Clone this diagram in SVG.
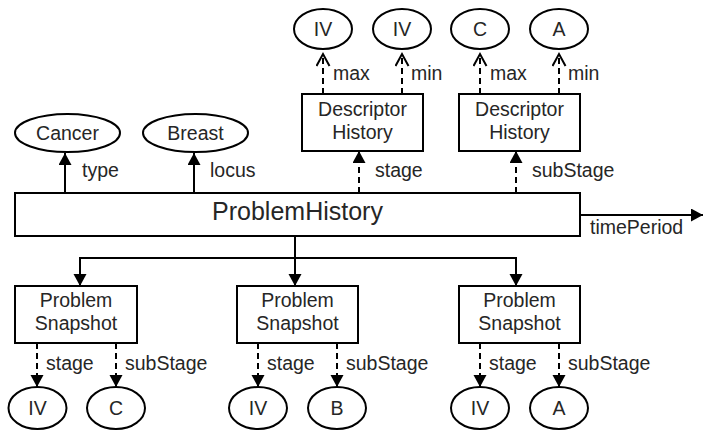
<svg xmlns="http://www.w3.org/2000/svg" width="704" height="431" viewBox="0 0 704 431">
<style>
text{font-family:"Liberation Sans",Arial,sans-serif;font-size:19.5px;fill:#262626}
.big{font-size:25px}
.mid{text-anchor:middle}
.box{fill:#fff;stroke:#000;stroke-width:2}
.ell{fill:#fff;stroke:#000;stroke-width:2}
.ln{fill:none;stroke:#000;stroke-width:2}
.dash{stroke-dasharray:6 4}
</style>
<defs>
<marker id="fa" markerUnits="userSpaceOnUse" markerWidth="14" markerHeight="14" refX="12" refY="6.5" orient="auto">
<path d="M0,0 L12,6.5 L0,13 z" fill="#000"/>
</marker>
<marker id="oa" markerUnits="userSpaceOnUse" markerWidth="16" markerHeight="16" refX="13" refY="7.5" orient="auto">
<path d="M1,1 L13,7.5 L1,14" fill="none" stroke="#000" stroke-width="2"/>
</marker>
</defs>
<g id="connectors">
<path class="ln" d="M65,193 V153" marker-end="url(#fa)"/>
<path class="ln" d="M194,193 V153" marker-end="url(#fa)"/>
<path class="ln dash" d="M359,193 V151" marker-end="url(#fa)"/>
<path class="ln dash" d="M516,193 V151" marker-end="url(#fa)"/>
<path class="ln dash" d="M323,94 V54" marker-end="url(#oa)"/>
<path class="ln dash" d="M402,94 V54" marker-end="url(#oa)"/>
<path class="ln dash" d="M480,94 V54" marker-end="url(#oa)"/>
<path class="ln dash" d="M559,94 V54" marker-end="url(#oa)"/>
<path class="ln" d="M580,215 H703" marker-end="url(#fa)"/>
<path class="ln" d="M295,236 V286" marker-end="url(#fa)"/>
<path class="ln" d="M80,286 V258 H516 V286" marker-end="url(#fa)"/>
<path class="ln" d="M80,258 V286" marker-end="url(#fa)"/>
<path class="ln dash" d="M37,343 V387" marker-end="url(#fa)"/>
<path class="ln dash" d="M116,343 V387" marker-end="url(#fa)"/>
<path class="ln dash" d="M258,343 V387" marker-end="url(#fa)"/>
<path class="ln dash" d="M337,343 V387" marker-end="url(#fa)"/>
<path class="ln dash" d="M480,343 V387" marker-end="url(#fa)"/>
<path class="ln dash" d="M559,343 V387" marker-end="url(#fa)"/>
<text x="82" y="177">type</text>
<text x="210" y="177">locus</text>
<text x="375" y="177">stage</text>
<text x="532" y="177">subStage</text>
<text x="333" y="80">max</text>
<text x="411" y="80">min</text>
<text x="490" y="80">max</text>
<text x="568" y="80">min</text>
<text x="590" y="234">timePeriod</text>
<text x="46" y="370">stage</text>
<text x="125" y="370">subStage</text>
<text x="267" y="370">stage</text>
<text x="346" y="370">subStage</text>
<text x="489" y="370">stage</text>
<text x="568" y="370">subStage</text>
</g>
<g id="problemHistory">
<rect class="box" x="15" y="193" width="565" height="43"/>
<text class="big mid" x="297.5" y="220">ProblemHistory</text>
</g>
<g id="cancer">
<ellipse class="ell" cx="67.5" cy="133" rx="52.5" ry="19"/>
<text class="mid" x="67.5" y="140">Cancer</text>
</g>
<g id="breast">
<ellipse class="ell" cx="195.5" cy="133" rx="52.5" ry="19"/>
<text class="mid" x="195.5" y="140">Breast</text>
</g>
<g id="descHist1">
<rect class="box" x="302" y="94" width="121" height="57"/>
<text class="mid" x="362.5" y="116">Descriptor</text>
<text class="mid" x="362.5" y="139">History</text>
</g>
<g id="descHist2">
<rect class="box" x="459" y="94" width="121" height="57"/>
<text class="mid" x="519.5" y="116">Descriptor</text>
<text class="mid" x="519.5" y="139">History</text>
</g>
<g id="topIV1">
<ellipse class="ell" cx="323" cy="29" rx="29" ry="20"/>
<text class="mid" x="323" y="36">IV</text>
</g>
<g id="topIV2">
<ellipse class="ell" cx="402" cy="29" rx="29" ry="20"/>
<text class="mid" x="402" y="36">IV</text>
</g>
<g id="topC">
<ellipse class="ell" cx="480" cy="29" rx="29" ry="20"/>
<text class="mid" x="480" y="36">C</text>
</g>
<g id="topA">
<ellipse class="ell" cx="559" cy="29" rx="29" ry="20"/>
<text class="mid" x="559" y="36">A</text>
</g>
<g id="snap1">
<rect class="box" x="15" y="286" width="122" height="57"/>
<text class="mid" x="76" y="307">Problem</text>
<text class="mid" x="76" y="330">Snapshot</text>
</g>
<g id="snap2">
<rect class="box" x="237" y="286" width="121" height="57"/>
<text class="mid" x="297.5" y="307">Problem</text>
<text class="mid" x="297.5" y="330">Snapshot</text>
</g>
<g id="snap3">
<rect class="box" x="459" y="286" width="121" height="57"/>
<text class="mid" x="519.5" y="307">Problem</text>
<text class="mid" x="519.5" y="330">Snapshot</text>
</g>
<g id="botIV1">
<ellipse class="ell" cx="37.5" cy="408" rx="29" ry="21"/>
<text class="mid" x="37.5" y="415">IV</text>
</g>
<g id="botC">
<ellipse class="ell" cx="116" cy="408" rx="29" ry="21"/>
<text class="mid" x="116" y="415">C</text>
</g>
<g id="botIV2">
<ellipse class="ell" cx="258" cy="408" rx="29" ry="21"/>
<text class="mid" x="258" y="415">IV</text>
</g>
<g id="botB">
<ellipse class="ell" cx="337" cy="408" rx="29" ry="21"/>
<text class="mid" x="337" y="415">B</text>
</g>
<g id="botIV3">
<ellipse class="ell" cx="480" cy="408" rx="29" ry="21"/>
<text class="mid" x="480" y="415">IV</text>
</g>
<g id="botA">
<ellipse class="ell" cx="559" cy="408" rx="29" ry="21"/>
<text class="mid" x="559" y="415">A</text>
</g>
</svg>
